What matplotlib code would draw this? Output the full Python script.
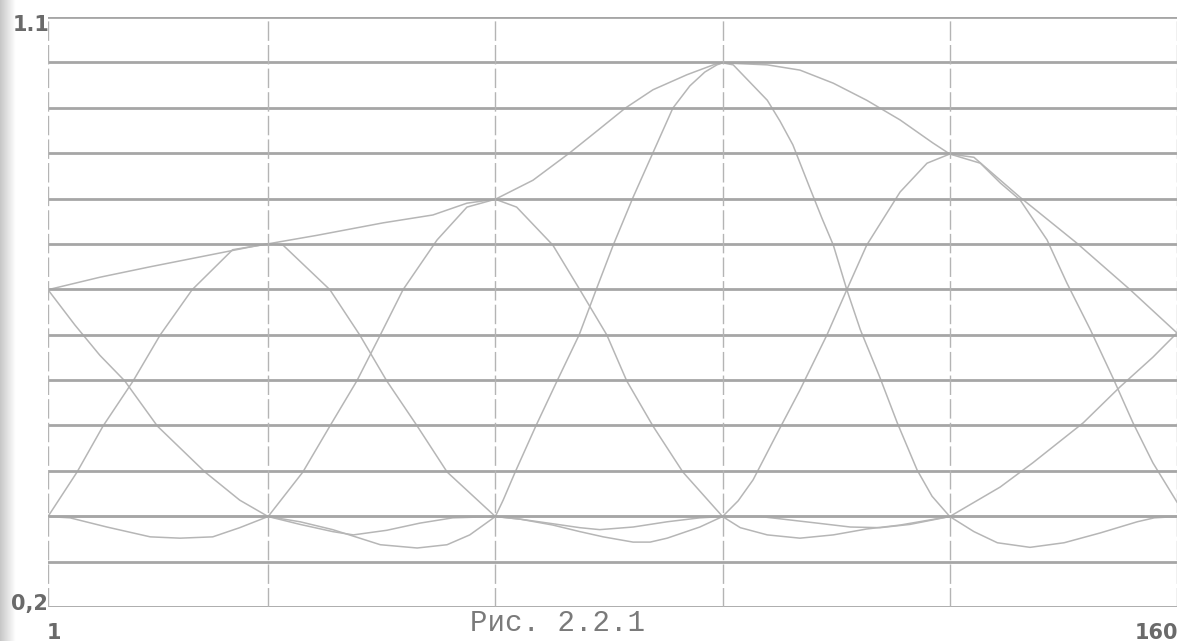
import numpy as np
import matplotlib
matplotlib.use("Agg")
import matplotlib.pyplot as plt

# axis range and grid
X_MIN, X_MAX = 1, 160
Y_MIN, Y_MAX = 0.2, 1.1
NODES = [32, 64, 96, 128]

# basis curves, one per node (peak at the node, low level elsewhere)
b0_x = [1, 4.8, 8.3, 11.8, 16.4, 23.1, 28.0, 32, 36.5, 41.1, 44.0, 48.7, 53.4, 58.0, 64, 160]
b0_y = [0.684, 0.630, 0.584, 0.545, 0.476, 0.406, 0.363, 0.338, 0.326, 0.315, 0.310,
        0.317, 0.328, 0.336, 0.338, 0.338]

b1_x = [1, 5.1, 8.75, 13.0, 16.8, 21.3, 27.0, 32, 34.1, 40.7, 44.9, 48.7, 53.0, 57.2, 64,
        67.5, 72.1, 75.9, 78.7, 83.4, 88.2, 92.8, 96, 160]
b1_y = [0.338, 0.406, 0.476, 0.545, 0.615, 0.684, 0.745, 0.754, 0.752, 0.684, 0.615, 0.545,
        0.476, 0.406, 0.338, 0.334, 0.327, 0.321, 0.318, 0.322, 0.330, 0.336, 0.338, 0.338]

b2_x = [1, 4.1, 9.3, 15.4, 19.6, 24.2, 28.0, 32, 36.9, 40.7, 44.5, 47.8, 51.0, 55.8, 60.0, 64,
        67.0, 72.1, 75.9, 79.7, 82.5, 86.2, 90.4, 96, 98.5, 102.3, 106.9, 111.6, 116.3, 121.0,
        128, 160]
b2_y = [0.338, 0.336, 0.322, 0.307, 0.305, 0.307, 0.321, 0.338, 0.406, 0.476, 0.545, 0.615,
        0.684, 0.760, 0.810, 0.822, 0.810, 0.752, 0.684, 0.615, 0.545, 0.476, 0.406, 0.338,
        0.321, 0.310, 0.305, 0.310, 0.319, 0.325, 0.338, 0.338]

b3_x = [1, 32, 36.5, 41.1, 44.9, 47.8, 53.0, 57.2, 60.4, 64, 65.1, 66.8, 69.7, 72.7, 75.8,
        78.2, 80.6, 83.4, 86.2, 89.0, 91.4, 93.5, 95.2, 96, 97.5, 102.3, 104.1, 105.9, 108.3,
        110.0, 111.6, 113.5, 115.4, 118.2, 120.6, 123.4, 125.5, 128, 131.4, 134.7, 139.3,
        144.1, 149.2, 154.4, 156.8, 160]
b3_y = [0.338, 0.338, 0.330, 0.318, 0.305, 0.295, 0.290, 0.295, 0.310, 0.338, 0.363, 0.406,
        0.476, 0.545, 0.615, 0.684, 0.752, 0.825, 0.893, 0.961, 0.995, 1.016, 1.027, 1.030,
        1.027, 0.973, 0.941, 0.905, 0.839, 0.793, 0.752, 0.684, 0.623, 0.549, 0.481, 0.409,
        0.369, 0.338, 0.315, 0.298, 0.291, 0.298, 0.313, 0.330, 0.336, 0.338]

b4_x = [1, 64, 67.5, 72.1, 75.9, 79.2, 83.4, 85.8, 88.2, 92.8, 96, 98.2, 100.3, 103.5, 106.9,
        110.7, 113.5, 116.3, 121.0, 124.8, 128, 132.3, 135.1, 137.9, 141.7, 144.5, 147.8,
        151.0, 153.8, 156.6, 160]
b4_y = [0.338, 0.338, 0.334, 0.325, 0.315, 0.307, 0.299, 0.299, 0.305, 0.322, 0.338, 0.362,
        0.394, 0.461, 0.531, 0.615, 0.684, 0.752, 0.833, 0.877, 0.891, 0.877, 0.847, 0.821,
        0.760, 0.694, 0.623, 0.549, 0.481, 0.420, 0.360]

b5_x = [1, 96, 101.3, 104.5, 109.3, 114.0, 118.2, 122.4, 128, 135.1, 139.7, 146.8, 152.0,
        156.6, 160]
b5_y = [0.338, 0.338, 0.338, 0.334, 0.328, 0.322, 0.321, 0.326, 0.338, 0.383, 0.420, 0.481,
        0.536, 0.581, 0.618]

# upper curve through the peaks
env_x = [1, 8.3, 15.4, 22.4, 29.4, 32, 38.9, 48.2, 55.2, 60.0, 64, 69.3, 74.5, 78.3,
         82.3, 86.2, 91.0, 94.7, 96, 102.3, 106.9, 111.6, 116.3, 121.0, 125.6, 128, 131.4,
         137.9, 145.9, 153.4, 160]
env_y = [0.684, 0.703, 0.719, 0.734, 0.749, 0.754, 0.767, 0.786, 0.798, 0.816, 0.822,
         0.851, 0.893, 0.926, 0.961, 0.989, 1.012, 1.027, 1.030, 1.027, 1.019, 0.999, 0.973,
         0.943, 0.908, 0.891, 0.886, 0.825, 0.755, 0.684, 0.618]

CURVES = [(b0_x, b0_y), (b1_x, b1_y), (b2_x, b2_y), (b3_x, b3_y),
          (b4_x, b4_y), (b5_x, b5_y), (env_x, env_y)]

GRID = "#a6a6a6"
LINE = "#b6b6b6"
TEXT = "#6a6a6a"

fig = plt.figure(figsize=(11.87, 6.41), dpi=100, facecolor="white")

# faint shading along the left edge of the sheet
shade = fig.add_axes([0, 0, 16 / 1187, 1])
shade.imshow(np.linspace(0, 1, 32)[None, :], cmap="gray", vmin=-3.5, vmax=1,
             aspect="auto", extent=[0, 1, 0, 1])
shade.axis("off")

ax = fig.add_axes([48 / 1187, 1 - 607 / 641, 1129 / 1187, 590 / 641])
ax.set_xlim(X_MIN, X_MAX)
ax.set_ylim(Y_MIN, Y_MAX)

for cx, cy in CURVES:
    ax.plot(cx, cy, color=LINE, lw=1.1, zorder=2, solid_joinstyle="round")

# solid horizontal rules, 13 bands
for yv in np.linspace(Y_MIN, Y_MAX, 14):
    ax.axhline(yv, color=GRID, lw=2.0, zorder=3)

# dashed verticals at the nodes and on both edges
for xv in NODES + [X_MIN, X_MAX]:
    ax.axvline(xv, color="#b4b4b4", lw=1.0, ls=(0, (14, 3)), zorder=3)

for s in ax.spines.values():
    s.set_visible(False)
ax.set_xticks([])
ax.set_yticks([])

lab = dict(color=TEXT, fontsize=15, fontweight="bold", family="DejaVu Sans")
fig.text(13 / 1187, 1 - 25 / 641, "1.1", ha="left", va="center", **lab)
fig.text(11 / 1187, 1 - 610 / 641, "0,2", ha="left", va="baseline", **lab)
fig.text(47 / 1187, 1 - 639 / 641, "1", ha="left", va="baseline", **lab)
fig.text(1178 / 1187, 1 - 639 / 641, "160", ha="right", va="baseline", **lab)

fig.text(558 / 1187, 1 - 631 / 641, "Рис. 2.2.1", ha="center", va="baseline",
         color="#7a7a7a", fontsize=21, family="Liberation Mono")

fig.savefig("out.png", dpi=100, facecolor="white")
